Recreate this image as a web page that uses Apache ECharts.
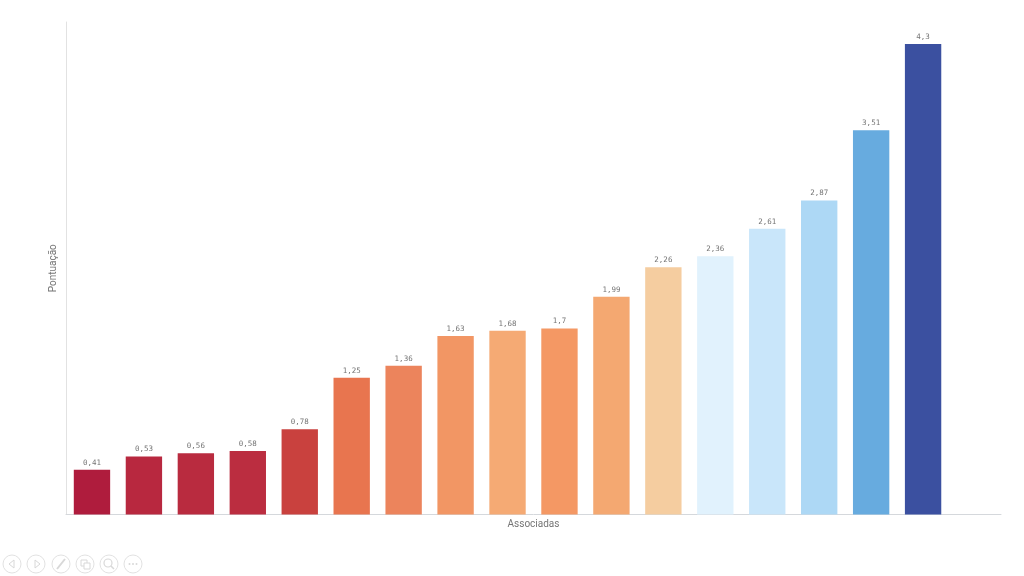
<!DOCTYPE html>
<html>
<head>
<meta charset="utf-8">
<style>html,body{margin:0;padding:0;background:#fff}#c{width:1024px;height:576px}</style>
<script src="https://cdn.jsdelivr.net/npm/echarts@6/dist/echarts.min.js"></script>
</head>
<body>
<div id="c"></div>
<script>
var categories = ['A1','A2','A3','A4','A5','A6','A7','A8','A9','A10','A11','A12','A13','A14','A15','A16','A17',''];
var values = [0.41,0.53,0.56,0.58,0.78,1.25,1.36,1.63,1.68,1.7,1.99,2.26,2.36,2.61,2.87,3.51,4.3,null];
var barColors = ['#AF1C3D','#B8283F','#B92B3F','#BB2D40','#C9413E','#E8754F','#EC845C','#F29664','#F5AA74','#F49864','#F4A871','#F5CDA0','#E1F2FD','#C9E6FA','#ADD8F5','#67ABDF','#3B50A0',null];
var axisX = 'Associadas', axisY = 'Pontuação';

var chart = echarts.init(document.getElementById('c'), null, {renderer:'canvas'});
var icons = [];
var iconColor = '#d8d8d8';
[12,36,61,85,109,133].forEach(function(x){
  icons.push({type:'circle',shape:{cx:x,cy:564,r:9},style:{fill:'#fff',stroke:'#e2e2e2',lineWidth:1},silent:true});
});
icons.push({type:'polygon',shape:{points:[[14,560],[9,564],[14,568]]},style:{fill:'none',stroke:iconColor},silent:true});
icons.push({type:'polygon',shape:{points:[[35,560],[40,564],[35,568]]},style:{fill:'none',stroke:iconColor},silent:true});
icons.push({type:'line',shape:{x1:57,y1:569,x2:65,y2:559},style:{stroke:iconColor,lineWidth:2},silent:true});
icons.push({type:'rect',shape:{x:81,y:560,width:6,height:6},style:{fill:'none',stroke:iconColor},silent:true});
icons.push({type:'rect',shape:{x:84,y:563,width:6,height:6},style:{fill:'#fff',stroke:iconColor},silent:true});
icons.push({type:'circle',shape:{cx:108,cy:563,r:4},style:{fill:'none',stroke:iconColor,lineWidth:1.2},silent:true});
icons.push({type:'line',shape:{x1:111,y1:566,x2:114,y2:569},style:{stroke:iconColor,lineWidth:1.5},silent:true});
[129.5,133,136.5].forEach(function(x){
  icons.push({type:'circle',shape:{cx:x,cy:564,r:1},style:{fill:iconColor},silent:true});
});

chart.setOption({
  animation:false,
  backgroundColor:'#fff',
  grid:{left:66,right:23,top:22,bottom:61.5},
  graphic:icons,
  xAxis:{
    type:'category',data:categories,name:axisX,nameLocation:'middle',nameGap:5,
    nameTextStyle:{fontFamily:'Roboto',fontSize:10,color:'#757575'},
    axisLine:{lineStyle:{color:'#d5d8dc',width:1}},
    axisTick:{show:false},axisLabel:{show:false}
  },
  yAxis:{
    type:'value',min:0,max:4.5,name:axisY,nameLocation:'middle',nameGap:8,
    nameTextStyle:{fontFamily:'Roboto',fontSize:10,color:'#757575'},
    axisLine:{show:true,lineStyle:{color:'#e2e2e2',width:1}},
    axisTick:{show:false},axisLabel:{show:false},splitLine:{show:false}
  },
  series:[{
    type:'bar',barWidth:'70%',
    data:values.map(function(v,i){return {value:v,itemStyle:{color:barColors[i]}};}),
    label:{show:true,position:'top',distance:3,fontFamily:'DejaVu Sans Mono',fontSize:7.5,color:'#757575',
      formatter:function(p){return p.value==null?'':String(p.value).replace('.',',');}}
  }]
});
</script>
</body>
</html>
